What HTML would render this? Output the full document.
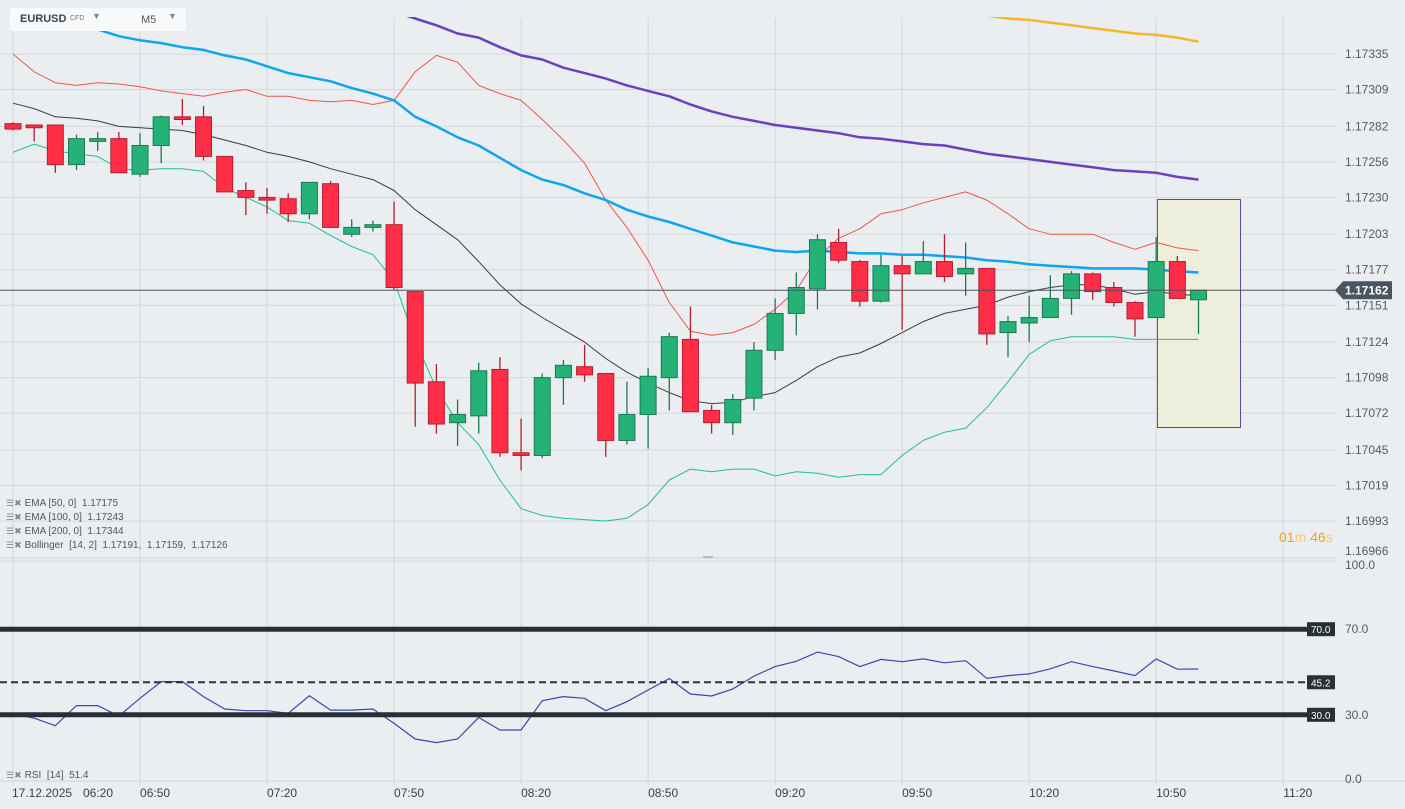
<!DOCTYPE html>
<html><head><meta charset="utf-8">
<style>
html,body{margin:0;padding:0;background:#eaeef1;}
body{width:1405px;height:809px;overflow:hidden;position:relative;font-family:"Liberation Sans",sans-serif;}
svg{position:absolute;left:0;top:0;}
.hdr{position:absolute;left:10px;top:8px;width:176px;height:23px;background:#f8f9fa;border-radius:3px;}
.legend{position:absolute;left:6px;font-size:10px;color:#555;line-height:12px;white-space:nowrap;}
.legend .ic{color:#888;font-size:9px;margin-right:3px;}
</style></head>
<body>
<svg id="chart" width="1405" height="809"></svg>
<div class="hdr">
  <span style="position:absolute;left:10px;top:5px;font-size:11px;font-weight:bold;color:#3a4450;">EURUSD</span>
  <span style="position:absolute;left:60px;top:7px;font-size:7px;color:#777;">CFD</span>
  <span style="position:absolute;left:82px;top:3px;font-size:9px;color:#888;">▼</span>
  <span style="position:absolute;left:131px;top:6px;font-size:11px;color:#555;">M5</span>
  <span style="position:absolute;left:158px;top:3px;font-size:9px;color:#888;">▼</span>
</div>
<div class="legend" style="top:497px"><span class="ic">☰✖</span>EMA [50, 0] &nbsp;1.17175</div>
<div class="legend" style="top:511px"><span class="ic">☰✖</span>EMA [100, 0] &nbsp;1.17243</div>
<div class="legend" style="top:525px"><span class="ic">☰✖</span>EMA [200, 0] &nbsp;1.17344</div>
<div class="legend" style="top:539px"><span class="ic">☰✖</span>Bollinger &nbsp;[14, 2] &nbsp;1.17191, &nbsp;1.17159, &nbsp;1.17126</div>
<div class="legend" style="top:769px"><span class="ic">☰✖</span>RSI &nbsp;[14] &nbsp;51.4</div>
<div style="position:absolute;left:1279px;top:529px;font-size:14px;"><span style="color:#f5a11a">01</span><span style="color:#f7c77a">m</span> <span style="color:#f5a11a">46</span><span style="color:#f7c77a">s</span></div>
<script>
const opens=[1.17284,1.17283,1.17283,1.17254,1.17271,1.17273,1.17247,1.17268,1.17289,1.17289,1.17260,1.17235,1.17230,1.17229,1.17218,1.17240,1.17203,1.17208,1.17210,1.17161,1.17095,1.17065,1.17070,1.17104,1.17043,1.17041,1.17098,1.17106,1.17101,1.17052,1.17071,1.17098,1.17126,1.17074,1.17065,1.17083,1.17118,1.17145,1.17163,1.17197,1.17183,1.17154,1.17180,1.17174,1.17183,1.17174,1.17178,1.17131,1.17138,1.17142,1.17156,1.17174,1.17164,1.17153,1.17142,1.17183,1.17155];
const highs=[1.17285,1.17283,1.17283,1.17276,1.17278,1.17278,1.17277,1.17290,1.17302,1.17297,1.17260,1.17241,1.17237,1.17233,1.17241,1.17242,1.17214,1.17213,1.17227,1.17161,1.17108,1.17082,1.17109,1.17113,1.17068,1.17101,1.17111,1.17122,1.17101,1.17095,1.17105,1.17131,1.17150,1.17078,1.17086,1.17124,1.17156,1.17175,1.17203,1.17207,1.17184,1.17188,1.17187,1.17198,1.17203,1.17197,1.17178,1.17143,1.17158,1.17173,1.17176,1.17175,1.17168,1.17154,1.17201,1.17187,1.17162];
const lows=[1.17279,1.17271,1.17248,1.17250,1.17264,1.17248,1.17245,1.17255,1.17283,1.17257,1.17234,1.17217,1.17218,1.17212,1.17214,1.17208,1.17201,1.17205,1.17162,1.17062,1.17057,1.17048,1.17057,1.17040,1.17030,1.17039,1.17078,1.17095,1.17040,1.17049,1.17046,1.17074,1.17073,1.17057,1.17056,1.17074,1.17111,1.17129,1.17148,1.17182,1.17150,1.17153,1.17133,1.17174,1.17168,1.17158,1.17122,1.17113,1.17124,1.17142,1.17144,1.17155,1.17150,1.17128,1.17142,1.17156,1.17130];
const closes=[1.17280,1.17281,1.17254,1.17273,1.17273,1.17248,1.17268,1.17289,1.17287,1.17260,1.17234,1.17230,1.17228,1.17218,1.17241,1.17208,1.17208,1.17210,1.17164,1.17094,1.17064,1.17071,1.17103,1.17043,1.17041,1.17098,1.17107,1.17100,1.17052,1.17071,1.17099,1.17128,1.17073,1.17065,1.17082,1.17118,1.17145,1.17164,1.17199,1.17184,1.17154,1.17180,1.17174,1.17183,1.17172,1.17178,1.17130,1.17139,1.17142,1.17156,1.17174,1.17161,1.17153,1.17141,1.17183,1.17156,1.17162];
const bbUpper=[1.17335,1.17322,1.17314,1.17312,1.17314,1.17313,1.17311,1.17308,1.17306,1.17304,1.17307,1.17309,1.17304,1.17304,1.17301,1.17300,1.17301,1.17298,1.17301,1.17322,1.17334,1.17329,1.17312,1.17306,1.17301,1.17287,1.17272,1.17255,1.17228,1.17208,1.17184,1.17153,1.17132,1.17129,1.17131,1.17137,1.17148,1.17162,1.17186,1.17200,1.17207,1.17218,1.17221,1.17226,1.17230,1.17234,1.17228,1.17218,1.17207,1.17203,1.17203,1.17203,1.17197,1.17192,1.17197,1.17193,1.17191];
const bbMiddle=[1.17299,1.17295,1.17289,1.17288,1.17286,1.17282,1.17281,1.17280,1.17279,1.17276,1.17272,1.17268,1.17263,1.17260,1.17256,1.17251,1.17247,1.17243,1.17235,1.17221,1.17210,1.17199,1.17183,1.17166,1.17152,1.17142,1.17133,1.17124,1.17112,1.17102,1.17094,1.17087,1.17081,1.17079,1.17080,1.17084,1.17087,1.17096,1.17106,1.17113,1.17116,1.17123,1.17131,1.17139,1.17145,1.17148,1.17151,1.17157,1.17161,1.17164,1.17166,1.17166,1.17163,1.17159,1.17161,1.17159,1.17158];
const bbLower=[1.17263,1.17269,1.17264,1.17262,1.17260,1.17251,1.17250,1.17251,1.17251,1.17249,1.17237,1.17230,1.17223,1.17213,1.17211,1.17202,1.17194,1.17188,1.17169,1.17125,1.17090,1.17065,1.17049,1.17023,1.17002,1.16997,1.16995,1.16994,1.16993,1.16995,1.17005,1.17023,1.17031,1.17029,1.17031,1.17031,1.17026,1.17029,1.17028,1.17025,1.17027,1.17027,1.17041,1.17052,1.17058,1.17061,1.17076,1.17095,1.17115,1.17125,1.17128,1.17128,1.17128,1.17126,1.17126,1.17126,1.17126];
const ema50=[1.17368,1.17364,1.17361,1.17356,1.17353,1.17348,1.17345,1.17343,1.17340,1.17338,1.17334,1.17331,1.17326,1.17321,1.17318,1.17315,1.17310,1.17306,1.17301,1.17289,1.17282,1.17274,1.17268,1.17259,1.17250,1.17243,1.17239,1.17233,1.17228,1.17221,1.17216,1.17212,1.17207,1.17202,1.17197,1.17194,1.17191,1.17190,1.17191,1.17190,1.17189,1.17189,1.17188,1.17188,1.17187,1.17186,1.17184,1.17183,1.17181,1.17180,1.17179,1.17178,1.17178,1.17178,1.17177,1.17176,1.17175];
const ema100=[1.17465,1.17460,1.17454,1.17449,1.17443,1.17438,1.17432,1.17427,1.17421,1.17416,1.17410,1.17405,1.17399,1.17394,1.17388,1.17383,1.17377,1.17372,1.17366,1.17361,1.17356,1.17350,1.17347,1.17340,1.17334,1.17331,1.17325,1.17321,1.17317,1.17312,1.17308,1.17304,1.17298,1.17293,1.17289,1.17286,1.17283,1.17281,1.17279,1.17277,1.17274,1.17273,1.17271,1.17269,1.17268,1.17265,1.17262,1.17260,1.17258,1.17256,1.17254,1.17252,1.17250,1.17249,1.17248,1.17245,1.17243];
const ema200=[1.17460,1.17458,1.17456,1.17454,1.17452,1.17450,1.17448,1.17446,1.17443,1.17441,1.17439,1.17437,1.17435,1.17433,1.17431,1.17429,1.17427,1.17425,1.17423,1.17420,1.17418,1.17416,1.17414,1.17412,1.17410,1.17408,1.17405,1.17403,1.17400,1.17398,1.17396,1.17393,1.17391,1.17389,1.17387,1.17384,1.17382,1.17380,1.17378,1.17375,1.17373,1.17371,1.17369,1.17367,1.17366,1.17365,1.17363,1.17361,1.17360,1.17358,1.17356,1.17354,1.17352,1.17350,1.17349,1.17347,1.17344];
const rsi=[30.4,28.4,24.9,34.3,34.3,29.4,37.7,45.5,45.5,38.5,32.7,31.9,31.9,30.7,38.9,32.2,32.2,32.7,26,18.7,17,18.7,28.8,22.9,22.9,36.6,38.5,37.7,31.9,36.1,41.6,46.9,39.7,38.8,42.1,48.1,52.5,55,59.3,57.2,52.5,55.9,54.8,56.1,54.3,55.3,47,48.3,49.1,51.5,54.8,52.5,50.5,48.3,56.1,51.3,51.4];
const priceTicks=[1.17335,1.17309,1.17282,1.17256,1.17230,1.17203,1.17177,1.17151,1.17124,1.17098,1.17072,1.17045,1.17019,1.16993,1.16966];
const timeTickIdx=[0,6,12,18,24,30,36,42,48,54,60];
const timeTickLabels=["06:20","06:50","07:20","07:50","08:20","08:50","09:20","09:50","10:20","10:50","11:20"];
const rsiLevels=[70,30];
const rsiSignal=45.2;
const lastPrice=1.17162;

const NS="http://www.w3.org/2000/svg";
const svg=document.getElementById('chart');
function mk(tag,attrs,parent){const e=document.createElementNS(NS,tag);for(const k in attrs)e.setAttribute(k,attrs[k]);(parent||svg).appendChild(e);return e;}
const xOf=i=>13+21.17*i;
const yOf=p=>54+(1.17335-p)*136550;
const yR=v=>779-v*2.14;
const PLOT_R=1336;

const defs=mk('defs',{});
const cp=mk('clipPath',{id:'mainclip'},defs);
mk('rect',{x:0,y:17,width:PLOT_R,height:541},cp);
const cp2=mk('clipPath',{id:'rsiclip'},defs);
mk('rect',{x:0,y:561,width:PLOT_R,height:220},cp2);

for(let k=0;k<timeTickIdx.length;k++){
  const x=xOf(timeTickIdx[k]);
  const g=mk('line',{x1:x,x2:x,y1:18,y2:785,stroke:'#d3d8dc','stroke-width':1});
  
  
  const t=mk('text',{x:k===0?83:x,y:797,'font-size':12,fill:'#3a3f45','font-family':'Liberation Sans, sans-serif'});
  t.textContent=timeTickLabels[k];
  
  
}
const dl=mk('text',{x:12,y:797,'font-size':12,fill:'#3a3f45'});
dl.textContent='17.12.2025';



priceTicks.forEach(p=>{
  const y=yOf(p);
  if(y<556){
    const g=mk('line',{x1:0,x2:PLOT_R,y1:y,y2:y,stroke:'#d3d8dc','stroke-width':1});
    
    
  }
  const t=mk('text',{x:1345,y:Math.min(y,551)+4,'font-size':12,fill:'#555b62'});
  t.textContent=p.toFixed(5);
  
  
});
let s=mk('line',{x1:0,x2:PLOT_R,y1:558,y2:558,stroke:'#cfd4d8','stroke-width':1});


s=mk('line',{x1:0,x2:PLOT_R,y1:561,y2:561,stroke:'#d3d8dc','stroke-width':1});


s=mk('line',{x1:0,x2:1405,y1:781,y2:781,stroke:'#cfd4d8','stroke-width':1});


s=mk('rect',{x:703,y:556,width:10,height:2,fill:'#bbb'});


[['100.0',565],['0.0',779]].forEach(a=>{const t=mk('text',{x:1345,y:a[1]+4,'font-size':12,fill:'#555b62'});t.textContent=a[0];

});

const gm=mk('g',{'clip-path':'url(#mainclip)'});



const hb=mk('rect',{x:1157.5,y:199.5,width:83,height:228,fill:'#eeeedd',stroke:'#5a4a90','stroke-width':1},gm);



function line(arr,color,w,name){
  const pts=arr.map((v,i)=>xOf(i).toFixed(1)+','+yOf(v).toFixed(1)).join(' ');
  const l=mk('polyline',{points:pts,fill:'none',stroke:color,'stroke-width':w,'stroke-linejoin':'round'},gm);
  
  
}
line(bbUpper,'#f0564a',1,'bollinger-upper');
line(bbMiddle,'#3a3d40',1,'bollinger-middle');
line(bbLower,'#22bf88',1,'bollinger-lower');
line(ema200,'#f7b52c',2.5,'ema-200');
line(ema100,'#6a40c0',2.5,'ema-100');
line(ema50,'#0ea5ef',2.5,'ema-50');

let lp=mk('line',{x1:0,x2:PLOT_R,y1:yOf(lastPrice),y2:yOf(lastPrice),stroke:'#4a5561','stroke-width':1});



for(let i=0;i<opens.length;i++){
  const up=closes[i]>=opens[i];
  const fill=up?'#25b277':'#ff2d46', st=up?'#1a7a52':'#b21f2e';
  const x=xOf(i);
  const w=mk('line',{x1:x,x2:x,y1:yOf(highs[i]),y2:yOf(lows[i]),stroke:st,'stroke-width':1.3},gm);
  
  
  const yt=yOf(Math.max(opens[i],closes[i])), yb=yOf(Math.min(opens[i],closes[i]));
  const r=mk('rect',{x:x-8,y:yt,width:16,height:Math.max(yb-yt,1.5),fill:fill,stroke:st,'stroke-width':1},gm);
  
  
}

const ly=yOf(lastPrice);
let lpl=mk('path',{d:`M1335 ${ly} L1343 ${ly-9} L1392 ${ly-9} L1392 ${ly+9} L1343 ${ly+9} Z`,fill:'#4a5561'});


let lpt=mk('text',{x:1345,y:ly+4.5,'font-size':12,'font-weight':'bold',fill:'#fff'});
lpt.textContent=lastPrice.toFixed(5);



const gr=mk('g',{'clip-path':'url(#rsiclip)'});


rsiLevels.forEach(v=>{
  const y=yR(v);
  const l=mk('line',{x1:0,x2:1310,y1:y,y2:y,stroke:'#263036','stroke-width':5});
  
  
  const b=mk('rect',{x:1307,y:y-7,width:28,height:14,fill:'#263036'});
  
  
  const t=mk('text',{x:1311,y:y+4,'font-size':10,fill:'#fff'});t.textContent=v.toFixed(1);
  
  
  const t2=mk('text',{x:1345,y:y+4,'font-size':12,fill:'#555b62'});t2.textContent=v.toFixed(1);
  
  
});
{
  const y=yR(rsiSignal);
  const l=mk('line',{x1:0,x2:1310,y1:y,y2:y,stroke:'#2a3036','stroke-width':2,'stroke-dasharray':'7 4'});
  
  
  const b=mk('rect',{x:1307,y:y-7,width:28,height:14,fill:'#263036'});
  
  
  const t=mk('text',{x:1311,y:y+4,'font-size':10,fill:'#fff'});t.textContent=rsiSignal.toFixed(1);
  
  
}
const rp=mk('polyline',{points:rsi.map((v,i)=>xOf(i).toFixed(1)+','+yR(v).toFixed(1)).join(' '),fill:'none',stroke:'#3a47b0','stroke-width':1.2},gr);


</script>
</body></html>
